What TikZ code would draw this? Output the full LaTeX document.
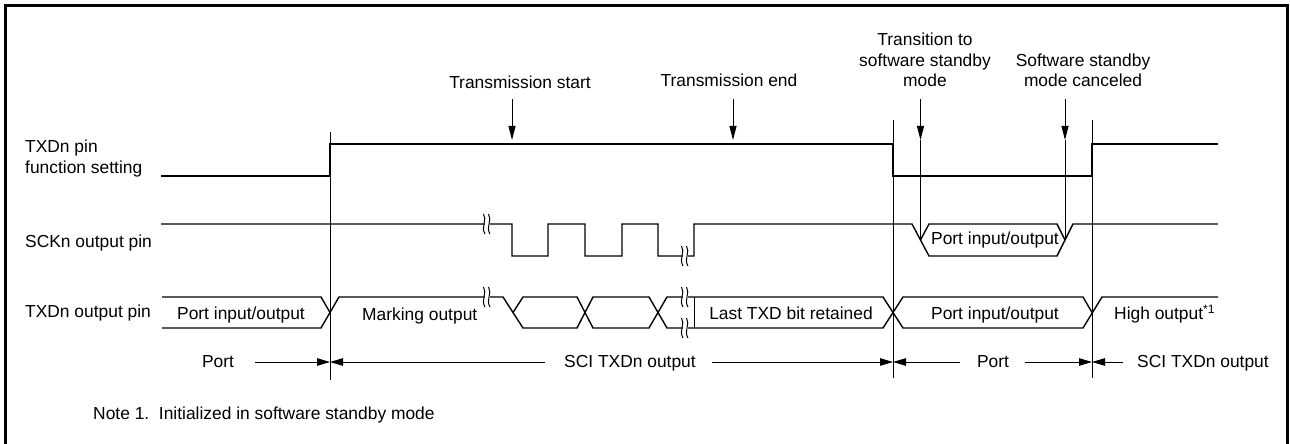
\documentclass[tikz,border=0pt]{standalone}
\usepackage{fontspec}
\setmainfont{Liberation Sans}
\usetikzlibrary{arrows.meta}
\newcommand\fsz{\fontsize{17.4bp}{21bp}\selectfont}
\begin{document}
\begin{tikzpicture}[x=1bp,y=-1bp,
  every node/.style={font=\fsz, inner sep=0pt},
  sig/.style={line width=1.4bp, line join=miter},
  guide/.style={line width=0.9bp},
  toparr/.style={line width=0.9bp, -{Triangle[length=14bp,width=7bp]}},
  dimarr/.style={line width=0.9bp, -{Triangle[length=13bp,width=7.5bp]}},
  brk/.pic={
    \fill[white] (-2.5,-8) rectangle (2.5,8);
    \draw[line width=1bp] (-3.5,-10) .. controls (0.5,-4) and (-6.5,3) .. (-2,10);
    \draw[line width=1bp] (1.5,-10) .. controls (5.5,-4) and (-1.5,3) .. (3,10);
  }]
\useasboundingbox (0,0) rectangle (1290,444);
% frame
\draw[line width=3bp] (5.5,446) -- (5.5,5.5) -- (1287.5,5.5) -- (1287.5,446);

% row labels
\node[anchor=base west] (l1a) at (25,153) {TXDn pin};
\node[anchor=base west] (l1b) at (25,174) {function setting};
\node[anchor=base west] (l2) at (25,248) {SCKn output pin};
\node[anchor=base west] (l3) at (25,318) {TXDn output pin};

% top labels
\node[anchor=base] (ts) at (520,89) {Transmission start};
\node[anchor=base] (te) at (729,87) {Transmission end};
\node[anchor=base] (tsa) at (925,46) {Transition to};
\node[anchor=base] (tsb) at (925,67) {software standby};
\node[anchor=base] (tsc) at (925,87) {mode};
\node[anchor=base] (sca) at (1083,67) {Software standby};
\node[anchor=base] (scb) at (1083,87) {mode canceled};

% guides
\coordinate (g1t) at (330,132); \coordinate (g1b) at (330,380);
\coordinate (g2t) at (893,120); \coordinate (g2b) at (893,378);
\coordinate (g3t) at (1092,120); \coordinate (g3b) at (1092,378);
\draw[guide] (g1t) -- (g1b);
\draw[guide] (g2t) -- (g2b);
\draw[guide] (g3t) -- (g3b);

% TXDn pin function setting
\draw[sig] (161,176) -- (330,176) -- (330,144) -- (893,144) -- (893,176)
  -- (1092,176) -- (1092,144) -- (1218,144);

% SCKn output pin
\draw[sig] (161,224) -- (512,224) -- (512,256) -- (548,256) -- (548,224)
  -- (585,224) -- (585,256) -- (622,256) -- (622,224) -- (658,224)
  -- (658,256) -- (694,256) -- (694,224) -- (912,224) -- (929,256)
  -- (1057,256) -- (1073,224) -- (1218,224);
\draw[sig] (1065,240) -- (1057,224) -- (929,224) -- (920.5,240);

% TXDn output pin
\draw[sig] (162,297) -- (321,297) -- (330,312.5) -- (321,328) -- (162,328);
\draw[sig] (330,312.5) -- (339,297) -- (503,297) -- (523,328) -- (577,328)
  -- (593,297) -- (649,297) -- (667,328) -- (883,328) -- (903,297)
  -- (1083,297) -- (1092,312.5);
\draw[sig] (513,312.5) -- (523,297) -- (577,297) -- (593,328) -- (649,328)
  -- (667,297) -- (883,297) -- (903,328) -- (1083,328) -- (1102,297) -- (1218,297);
\draw[guide] (694,297) -- (694,328);

% breaks
\pic at (487,224) {brk};
\pic at (685,256) {brk};
\pic at (487,297) {brk};
\pic at (685,297) {brk};
\pic at (685,328) {brk};

% signal texts
\node[anchor=base] (p1) at (241,320) {Port input/output};
\node[anchor=base west] (mo) at (362,321) {Marking output};
\node[anchor=base] (lt) at (791,320) {Last TXD bit retained};
\node[anchor=base] (p2) at (995,320) {Port input/output};
\node[anchor=base west] (ho) at (1114,320) {High output\textsuperscript{*1}};
\node[anchor=base] (p3) at (995,245) {Port input/output};

% top arrows
\coordinate (a1s) at (512,99); \coordinate (a1e) at (512,140);
\coordinate (a2s) at (733,99); \coordinate (a2e) at (733,140);
\coordinate (a3s) at (920.5,99); \coordinate (a3e) at (920.5,140); \coordinate (a3v) at (920.5,240);
\coordinate (a4s) at (1065,99); \coordinate (a4e) at (1065,140); \coordinate (a4v) at (1065,240);
\draw[toparr] (a1s) -- (a1e);
\draw[toparr] (a2s) -- (a2e);
\draw[toparr] (a3s) -- (a3e);
\draw[guide] (a3e) -- (a3v);
\draw[toparr] (a4s) -- (a4e);
\draw[guide] (a4e) -- (a4v);

% bottom dimension row
\node[anchor=base] (dp1) at (218,368) {Port};
\node[anchor=base] (ds1) at (630,368) {SCI TXDn output};
\node[anchor=base] (dp2) at (993,368) {Port};
\node[anchor=base] (ds2) at (1203,368) {SCI TXDn output};
\coordinate (d1) at (255,362); \coordinate (h1) at (330,362);
\coordinate (d2) at (545,362); \coordinate (d3) at (712,362); \coordinate (h2) at (893,362);
\coordinate (d4) at (960,362); \coordinate (d5) at (1025,362); \coordinate (h3) at (1092,362);
\coordinate (d6) at (1123,362);
\draw[dimarr] (d1) -- (h1);
\draw[dimarr] (d2) -- (h1);
\draw[dimarr] (d3) -- (h2);
\draw[dimarr] (d4) -- (h2);
\draw[dimarr] (d5) -- (h3);
\draw[dimarr] (d6) -- (h3);

% note
\node[anchor=base west] (note) at (93,420) {Note 1.\ \ Initialized in software standby mode};
\end{tikzpicture}
\end{document}
